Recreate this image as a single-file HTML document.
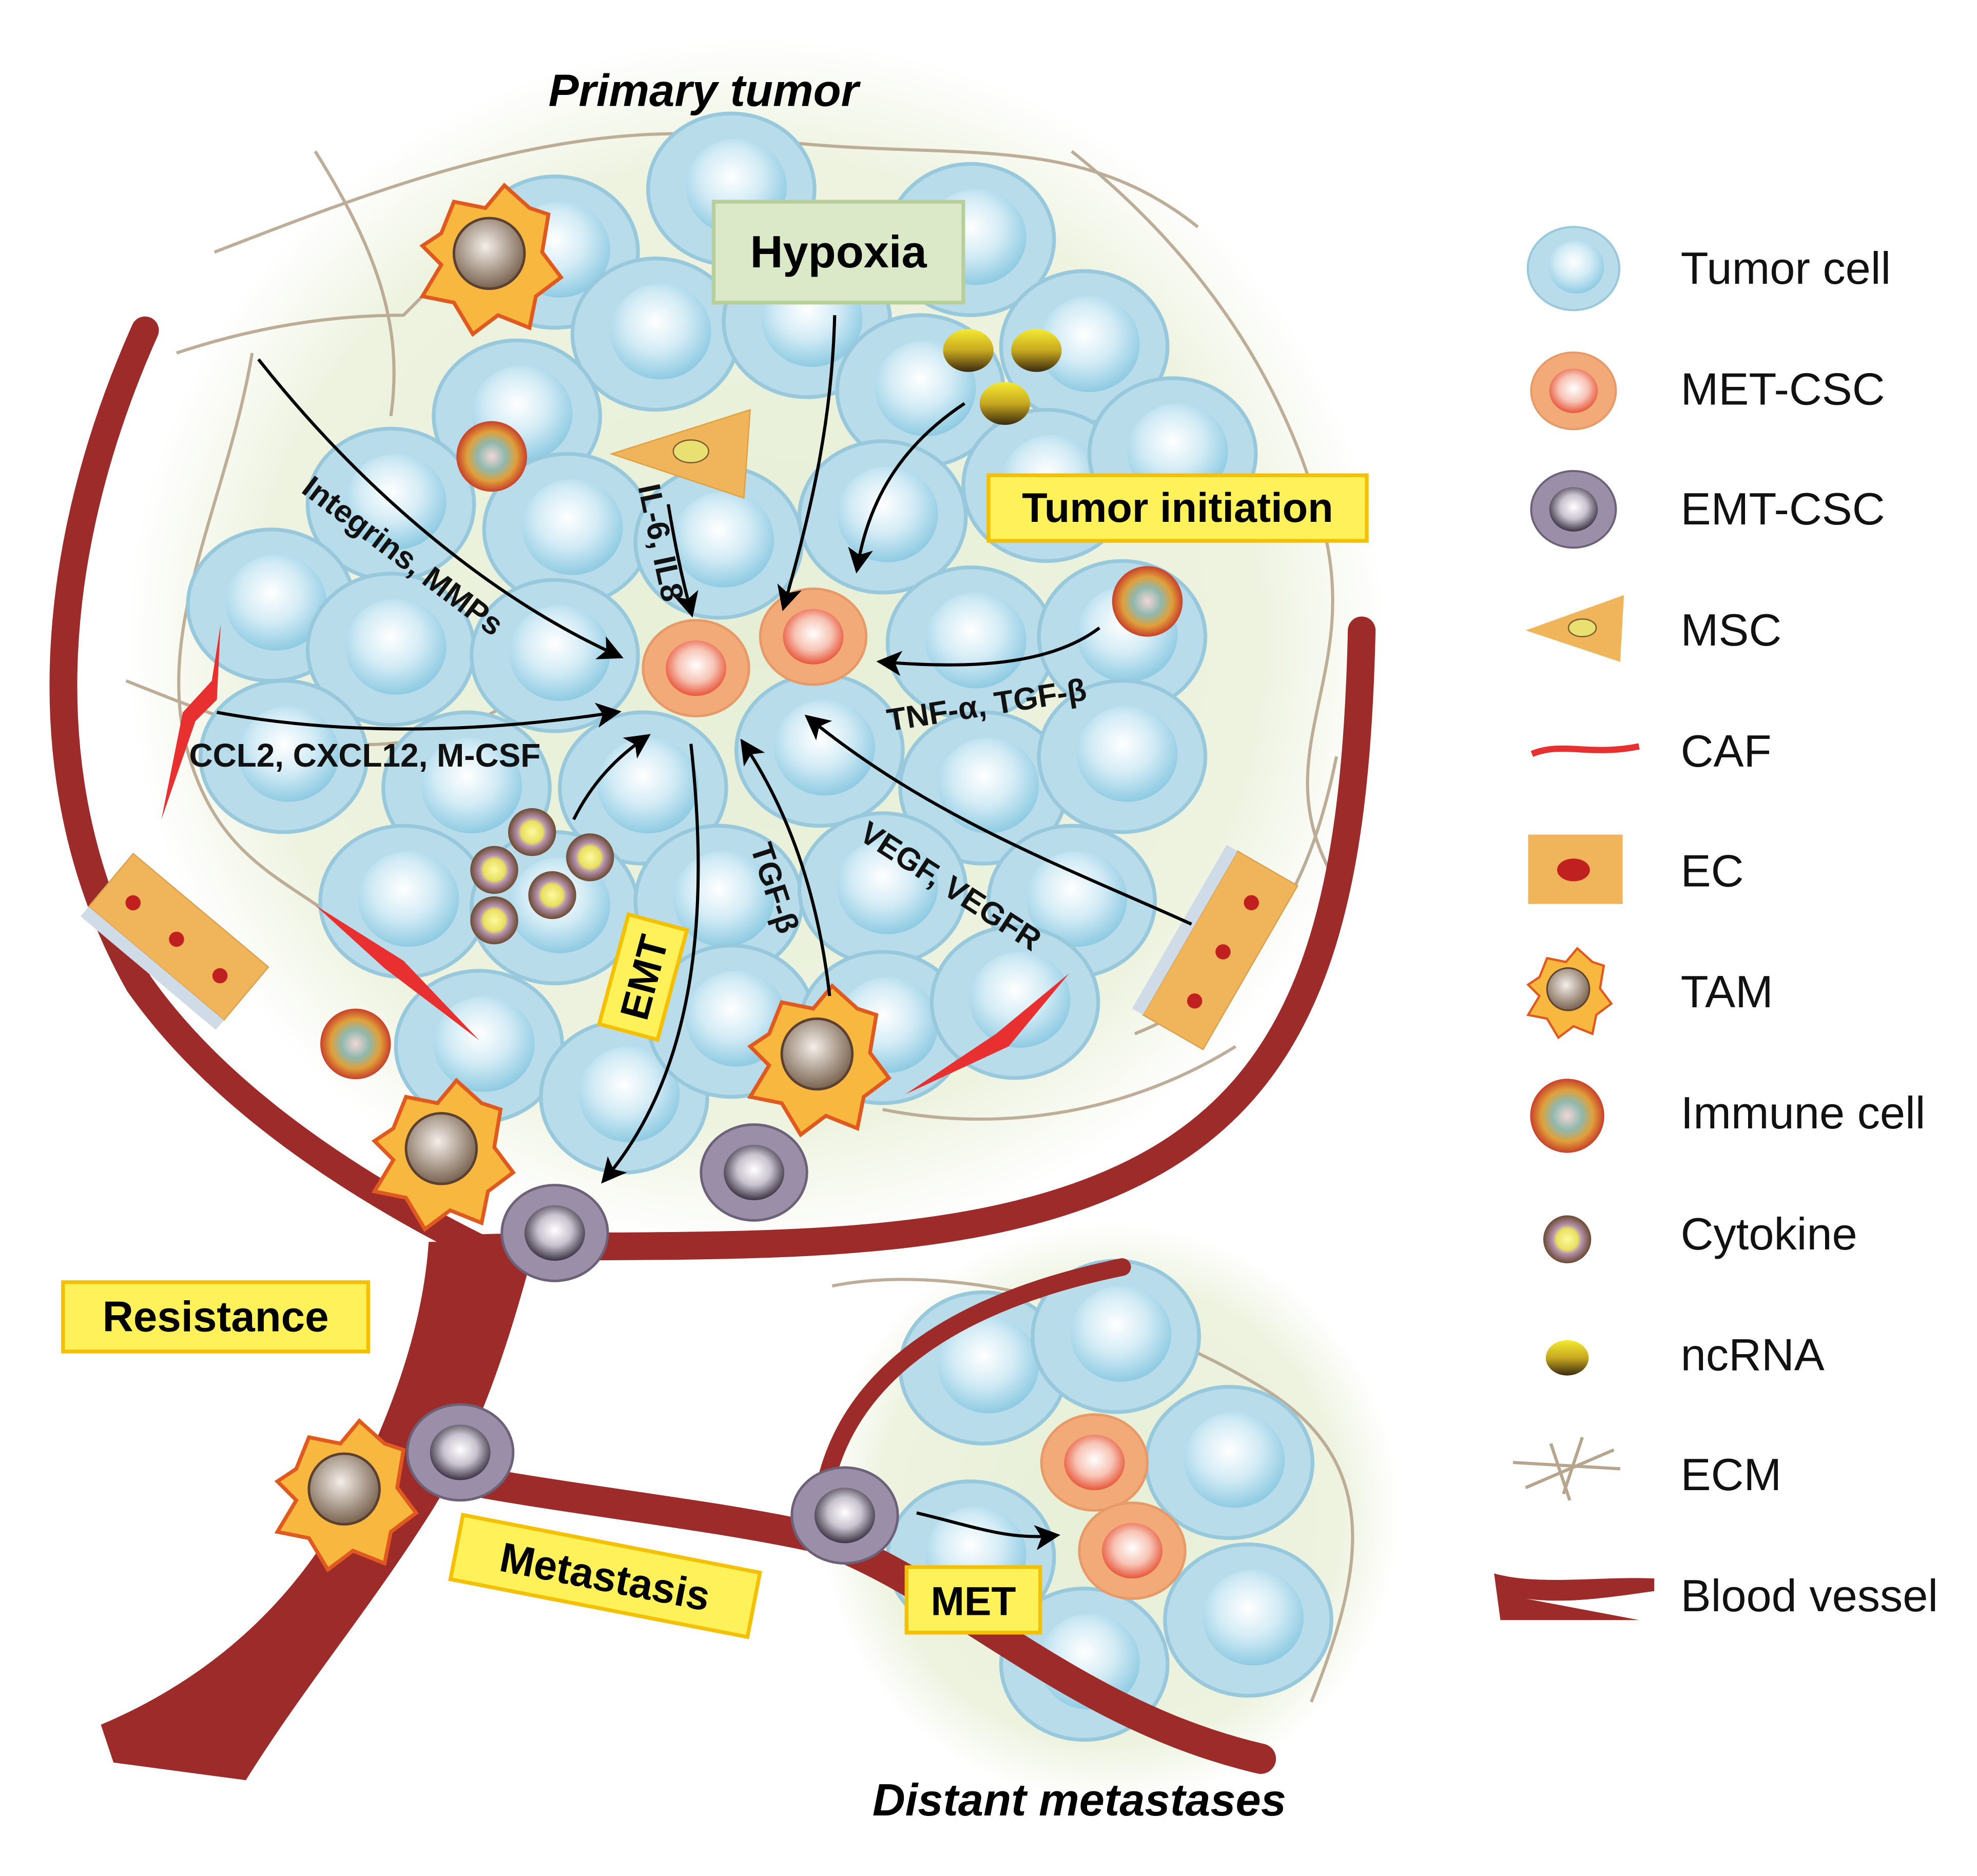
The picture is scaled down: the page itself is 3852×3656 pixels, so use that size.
<!DOCTYPE html>
<html><head><meta charset="utf-8"><style>
html,body{margin:0;padding:0;background:#fff;}
svg{display:block;}
text{font-family:"Liberation Sans",Arial,sans-serif;}
</style></head><body>
<svg width="3852" height="3656" viewBox="0 0 1568 1488" preserveAspectRatio="none" xmlns="http://www.w3.org/2000/svg">
<defs>
<radialGradient id="glow" cx="50%" cy="50%" r="50%">
<stop offset="0" stop-color="#e6efd6"/><stop offset="0.8" stop-color="#eef3e0"/><stop offset="1" stop-color="#ffffff"/>
</radialGradient>
<radialGradient id="nuc" cx="45%" cy="40%" r="60%">
<stop offset="0" stop-color="#ffffff"/><stop offset="0.5" stop-color="#d4ecf6"/><stop offset="1" stop-color="#8fcbe3"/>
</radialGradient>
<radialGradient id="met" cx="50%" cy="45%" r="55%">
<stop offset="0" stop-color="#ffffff"/><stop offset="0.55" stop-color="#f7c3b4"/><stop offset="1" stop-color="#e8563a"/>
</radialGradient>
<radialGradient id="emt" cx="50%" cy="45%" r="55%">
<stop offset="0" stop-color="#ffffff"/><stop offset="0.5" stop-color="#c9c2cf"/><stop offset="1" stop-color="#3c3444"/>
</radialGradient>
<radialGradient id="tamn" cx="45%" cy="40%" r="60%">
<stop offset="0" stop-color="#f4efe9"/><stop offset="1" stop-color="#7a6350"/>
</radialGradient>
<radialGradient id="cyt" cx="50%" cy="50%" r="50%">
<stop offset="0" stop-color="#fff9a0"/><stop offset="0.45" stop-color="#e8e060"/><stop offset="0.6" stop-color="#b894b0"/><stop offset="1" stop-color="#6b4a32"/>
</radialGradient>
<radialGradient id="imm" cx="50%" cy="50%" r="50%">
<stop offset="0" stop-color="#f2d6d8"/><stop offset="0.4" stop-color="#8fb8ac"/><stop offset="0.7" stop-color="#e0a03a"/><stop offset="1" stop-color="#c8402a"/>
</radialGradient>
<linearGradient id="nc" x1="0" y1="0" x2="0" y2="1">
<stop offset="0" stop-color="#f5ea30"/><stop offset="0.5" stop-color="#c8a820"/><stop offset="1" stop-color="#3a2a10"/>
</linearGradient>
<marker id="ah" markerWidth="8" markerHeight="8" refX="6" refY="4" orient="auto" markerUnits="strokeWidth">
<path d="M0,0 L8,4 L0,8 L2,4 z" fill="#000"/>
</marker>
<g id="tc"><ellipse rx="66" ry="60" fill="#b9dcea" stroke="#97c8dc" stroke-width="3"/><ellipse cx="4" cy="-2" rx="40" ry="38" fill="url(#nuc)"/></g>
<g id="mc"><ellipse rx="42" ry="38" fill="#f2ab78" stroke="#e79a68" stroke-width="2"/><ellipse rx="24" ry="22" fill="url(#met)"/></g>
<g id="ec"><ellipse rx="42" ry="38" fill="#9a8ea8" stroke="#6d6178" stroke-width="2"/><ellipse rx="24" ry="22" fill="url(#emt)"/></g>
<g id="tam"><path d="M-40,-20 L-30,-45 L-5,-40 L10,-58 L30,-40 L45,-35 L40,-5 L55,15 L35,30 L30,55 L5,45 L-15,60 L-30,35 L-55,30 L-40,5 L-55,-10 z" fill="#f8b840" stroke="#e05a20" stroke-width="3"/><circle cx="-2" cy="-4" r="28" fill="url(#tamn)" stroke="#5a4030" stroke-width="2"/></g>
<g id="imc"><circle r="28" fill="url(#imm)"/></g>
<g id="ck"><circle r="19" fill="url(#cyt)"/></g>
</defs>
<rect width="1568" height="1488" fill="#fff"/>
<ellipse cx="600" cy="510" rx="500" ry="480" fill="url(#glow)"/>
<ellipse cx="880" cy="1200" rx="230" ry="230" fill="url(#glow)"/>
<g stroke="#b7a58e" stroke-width="2.5" fill="none" opacity="0.9">
<path d="M170,200 C300,150 450,90 600,110 S850,100 950,180"/>
<path d="M140,280 C200,260 260,250 320,250 L420,150"/>
<path d="M200,280 C180,400 120,500 150,600 S250,700 300,760"/>
<path d="M100,540 C200,580 300,620 400,560"/>
<path d="M850,120 C950,200 1020,300 1050,420 S1000,600 1060,700"/>
<path d="M900,820 C1000,780 1040,700 1060,600"/>
<path d="M250,120 C300,200 320,260 310,330"/>
<path d="M700,880 C800,900 900,880 980,830"/>
<path d="M660,1020 C760,1000 900,1040 1000,1100 S1080,1250 1040,1350"/>
</g>
<g>
<use href="#tc" x="580" y="150"/><use href="#tc" x="440" y="200"/><use href="#tc" x="770" y="190"/>
<use href="#tc" x="520" y="265"/><use href="#tc" x="640" y="255"/><use href="#tc" x="860" y="275"/>
<use href="#tc" x="410" y="330"/><use href="#tc" x="730" y="310"/><use href="#tc" x="310" y="400"/>
<use href="#tc" x="450" y="420"/><use href="#tc" x="570" y="430"/><use href="#tc" x="700" y="410"/>
<use href="#tc" x="830" y="385"/><use href="#tc" x="930" y="360"/><use href="#tc" x="215" y="480"/>
<use href="#tc" x="310" y="515"/><use href="#tc" x="440" y="520"/><use href="#tc" x="770" y="510"/>
<use href="#tc" x="890" y="505"/><use href="#tc" x="225" y="600"/><use href="#tc" x="370" y="625"/>
<use href="#tc" x="510" y="625"/><use href="#tc" x="650" y="595"/><use href="#tc" x="780" y="625"/>
<use href="#tc" x="890" y="600"/><use href="#tc" x="320" y="715"/><use href="#tc" x="440" y="720"/>
<use href="#tc" x="570" y="715"/><use href="#tc" x="700" y="705"/><use href="#tc" x="850" y="715"/>
<use href="#tc" x="380" y="830"/><use href="#tc" x="495" y="870"/><use href="#tc" x="580" y="810"/>
<use href="#tc" x="700" y="815"/><use href="#tc" x="805" y="795"/>
<use href="#tc" x="780" y="1085"/><use href="#tc" x="885" y="1060"/><use href="#tc" x="975" y="1160"/>
<use href="#tc" x="770" y="1235"/><use href="#tc" x="860" y="1320"/><use href="#tc" x="990" y="1285"/>
</g>
<g fill="none" stroke="#9d2b2a" stroke-linecap="round">
<path d="M115,262 C40,430 20,620 110,780 C180,880 300,950 380,990" stroke-width="22"/>
<path d="M380,990 C560,985 760,1000 900,930 C1040,860 1075,720 1080,500" stroke-width="22"/>
<path d="M350,1170 C450,1190 560,1200 650,1220 C760,1260 850,1360 1000,1395" stroke-width="24"/>
<path d="M650,1220 C650,1120 720,1040 890,1005" stroke-width="14"/>
</g>
<path d="M340,985 L425,985 C400,1080 375,1150 335,1210 C290,1280 240,1340 195,1412 L90,1398 L80,1368 C170,1330 230,1270 268,1205 C305,1135 335,1060 340,985 z" fill="#9d2b2a"/>
<g transform="translate(140,745) rotate(40)"><rect x="-70" y="-30" width="140" height="55" fill="#f0b45a" stroke="#d9a050"/><rect x="-70" y="25" width="140" height="10" fill="#cfdbe6"/><circle cx="-45" cy="0" r="6" fill="#c02020"/><circle cx="0" cy="0" r="6" fill="#c02020"/><circle cx="45" cy="0" r="6" fill="#c02020"/></g>
<g transform="translate(970,755) rotate(-60)"><rect x="-75" y="-30" width="150" height="55" fill="#f0b45a" stroke="#d9a050"/><rect x="-75" y="-40" width="150" height="10" fill="#cfdbe6"/><circle cx="-45" cy="0" r="6" fill="#c02020"/><circle cx="0" cy="0" r="6" fill="#c02020"/><circle cx="45" cy="0" r="6" fill="#c02020"/></g>
<g fill="#e83030">
<path d="M175,495 L168,540 L145,565 L128,650 L155,572 L172,555 z"/>
<path d="M250,718 L320,762 L380,825 L305,768 z"/>
<path d="M848,772 L790,820 L718,868 L800,830 z"/>
</g>
<path d="M485,360 L595,325 L590,395 z" fill="#f0b45a" stroke="#e0a040"/><ellipse cx="548" cy="358" rx="14" ry="9" fill="#e8e070" stroke="#7a5a30"/>
<use href="#mc" x="552" y="530"/><use href="#mc" x="645" y="505"/>
<use href="#mc" x="868" y="1160"/><use href="#mc" x="898" y="1230"/>
<use href="#ec" x="598" y="930"/><use href="#ec" x="440" y="978"/><use href="#ec" x="365" y="1152"/><use href="#ec" x="670" y="1202"/>
<use href="#tam" x="390" y="205"/><use href="#tam" x="650" y="840"/><use href="#tam" x="352" y="915"/><use href="#tam" x="275" y="1185"/>
<use href="#imc" x="390" y="362"/><use href="#imc" x="910" y="477"/><use href="#imc" x="282" y="828"/>
<use href="#ck" x="422" y="660"/><use href="#ck" x="392" y="690"/><use href="#ck" x="468" y="680"/><use href="#ck" x="438" y="710"/><use href="#ck" x="392" y="730"/>
<ellipse cx="768" cy="278" rx="20" ry="17" fill="url(#nc)"/><ellipse cx="822" cy="278" rx="20" ry="17" fill="url(#nc)"/><ellipse cx="797" cy="320" rx="20" ry="17" fill="url(#nc)"/>
<g fill="none" stroke="#000" stroke-width="2.5" marker-end="url(#ah)">
<path d="M205,285 C280,380 380,470 490,520"/>
<path d="M172,565 C280,585 390,580 488,565"/>
<path d="M455,650 C470,620 490,600 512,585"/>
<path d="M530,400 C535,430 540,455 548,485"/>
<path d="M662,250 C660,330 645,400 622,480"/>
<path d="M765,320 C720,350 690,390 680,450"/>
<path d="M872,498 C830,530 760,530 700,525"/>
<path d="M945,733 C850,690 740,650 642,570"/>
<path d="M658,790 C650,720 630,650 590,590"/>
<path d="M548,590 C560,700 560,840 480,935"/>
<path d="M727,1200 C770,1210 800,1222 836,1218"/>
</g>
<g font-weight="bold" fill="#111">
<text x="0" y="0" font-size="25" transform="translate(238,390) rotate(37)">Integrins, MMPs</text>
<text x="0" y="0" font-size="25" transform="translate(506,386) rotate(78)">IL-6, IL8</text>
<text x="150" y="608" font-size="26">CCL2, CXCL12, M-CSF</text>
<text x="0" y="0" font-size="25" transform="translate(705,580) rotate(-9)">TNF-α, TGF-β</text>
<text x="0" y="0" font-size="25" transform="translate(680,665) rotate(33)">VEGF, VEGFR</text>
<text x="0" y="0" font-size="25" transform="translate(595,672) rotate(72)">TGF-β</text>
</g>
<rect x="566" y="160" width="198" height="80" fill="#dce9c8" stroke="#b8cf9c" stroke-width="3"/>
<text x="665" y="212" font-size="36" font-weight="bold" text-anchor="middle">Hypoxia</text>
<g fill="#fff15a" stroke="#f5c000" stroke-width="3">
<rect x="784" y="377" width="300" height="52"/>
<rect x="50" y="1017" width="242" height="55"/>
<rect x="719" y="1243" width="106" height="52"/>
<rect x="-120" y="-26" width="240" height="52" transform="translate(480,1250) rotate(11)"/>
<rect x="-45" y="-24" width="90" height="48" transform="translate(510,775) rotate(-75)"/>
</g>
<g font-weight="bold" fill="#000">
<text x="934" y="414" font-size="33" text-anchor="middle">Tumor initiation</text>
<text x="171" y="1056" font-size="34" text-anchor="middle">Resistance</text>
<text x="772" y="1281" font-size="32" text-anchor="middle">MET</text>
<text x="0" y="12" font-size="33" text-anchor="middle" transform="translate(480,1250) rotate(11)">Metastasis</text>
<text x="0" y="12" font-size="32" text-anchor="middle" transform="translate(510,775) rotate(-75)">EMT</text>
<text x="558" y="84" font-size="36" font-style="italic" text-anchor="middle">Primary tumor</text>
<text x="856" y="1440" font-size="36" font-style="italic" text-anchor="middle">Distant metastases</text>
</g>
<g>
<g transform="translate(1248,213) scale(0.55)"><use href="#tc"/></g>
<g transform="translate(1248,310) scale(0.8)"><use href="#mc"/></g>
<g transform="translate(1248,404) scale(0.8)"><use href="#ec"/></g>
<path d="M1210,500 L1288,472 L1285,525 z" fill="#f0b45a"/><ellipse cx="1255" cy="498" rx="11" ry="7" fill="#e8e070" stroke="#7a5a30"/>
<path d="M1215,598 C1240,588 1260,600 1300,592" stroke="#e83030" stroke-width="5" fill="none"/>
<rect x="1212" y="662" width="75" height="55" fill="#f0b45a"/><ellipse cx="1248" cy="690" rx="13" ry="9" fill="#c02020"/>
<g transform="translate(1245,787) scale(0.6)"><use href="#tam"/></g>
<g transform="translate(1243,885) scale(1.05)"><use href="#imc"/></g>
<use href="#ck" x="1243" y="983"/>
<ellipse cx="1243" cy="1077" rx="17" ry="14" fill="url(#nc)"/>
<g stroke="#b7a58e" stroke-width="2.5" fill="none"><path d="M1200,1160 L1285,1165 M1230,1145 L1245,1190 M1255,1140 L1240,1185 M1210,1180 L1280,1150"/></g>
<path d="M1185,1248 C1220,1258 1270,1250 1312,1252 L1312,1262 C1270,1268 1240,1272 1210,1268 L1300,1285 L1190,1285 z" fill="#9d2b2a"/>
</g>
<g font-size="36" fill="#111">
<text x="1333" y="225">Tumor  cell</text>
<text x="1333" y="321">MET-CSC</text>
<text x="1333" y="416">EMT-CSC</text>
<text x="1333" y="512">MSC</text>
<text x="1333" y="608">CAF</text>
<text x="1333" y="703">EC</text>
<text x="1333" y="799">TAM</text>
<text x="1333" y="895">Immune  cell</text>
<text x="1333" y="991">Cytokine</text>
<text x="1333" y="1087">ncRNA</text>
<text x="1333" y="1182">ECM</text>
<text x="1333" y="1278">Blood vessel</text>
</g>
</svg>
</body></html>
